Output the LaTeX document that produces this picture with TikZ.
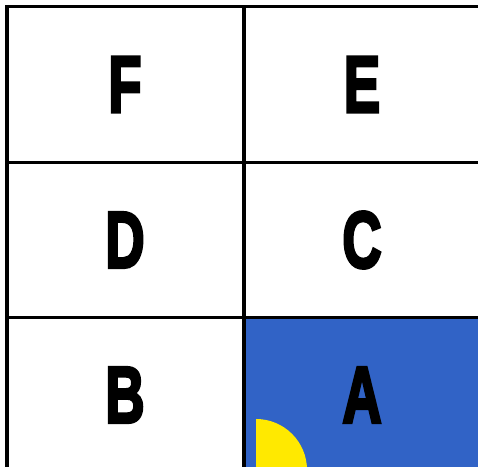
\documentclass[tikz,border=0pt]{standalone}
\usepackage{fontspec}
\newfontfamily\bigletter[BoldFeatures={FakeBold=4}]{Liberation Sans}
\definecolor{cellblue}{HTML}{3163C6}
\definecolor{sunyellow}{HTML}{FFE900}
\tikzset{
  gridline/.style={line width=3.2pt, black},
  letter/.style={font=\bigletter\bfseries\fontsize{80}{80}\selectfont, inner sep=0pt, xscale=0.68, text=black}
}
\begin{document}
\begin{tikzpicture}[x=1pt,y=1pt]
\useasboundingbox (0,0) rectangle (478,470);
\fill[white] (0,0) rectangle (478,470);
% blue cell A
\fill[cellblue] (244,3) rectangle (478,153);
% yellow quarter disc
\begin{scope}
\clip (246,3) rectangle (478,153);
\fill[sunyellow] (256,0) -- (256,51) arc[start angle=90, end angle=0, radius=51] -- cycle;
\end{scope}
% grid lines
\coordinate (tl) at (7,463.5);
\coordinate (tr) at (478,463.5);
\coordinate (bl) at (7,3);
\coordinate (mt) at (244,463.5);
\coordinate (mb) at (244,3);
\coordinate (h1l) at (7,307.5);
\coordinate (h1r) at (478,307.5);
\coordinate (h2l) at (7,152.5);
\coordinate (h2r) at (478,152.5);
\draw[gridline] (tl) -- (tr);
\draw[gridline] ([yshift=1.6pt]tl) -- (bl);
\draw[gridline] (mt) -- (mb);
\draw[gridline] (h1l) -- (h1r);
\draw[gridline] (h2l) -- (h2r);
% letters
\node[letter] (F) at (125,385.5) {F};
\node[letter] (E) at (362,385.5) {E};
\node[letter] (D) at (125,230) {D};
\node[letter] (C) at (362,230) {C};
\node[letter] (B) at (125,75) {B};
\node[letter] (A) at (362,75) {A};
\end{tikzpicture}
\end{document}
